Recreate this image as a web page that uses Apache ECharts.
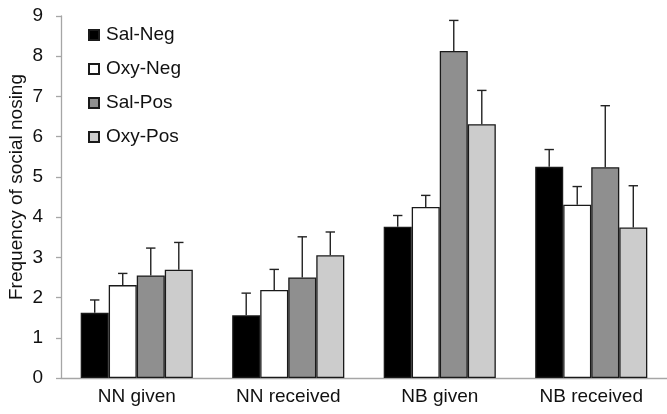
<!DOCTYPE html>
<html>
<head>
<meta charset="utf-8">
<script src="https://cdn.jsdelivr.net/npm/echarts@6/dist/echarts.min.js"></script>
<style>
html,body{margin:0;padding:0;background:#fff;}
#chart{width:667px;height:414px;}
</style>
</head>
<body>
<div id="chart"></div>
<script>
var categories = ['NN given', 'NN received', 'NB given', 'NB received'];
var seriesNames = ['Sal-Neg', 'Oxy-Neg', 'Sal-Pos', 'Oxy-Pos'];
var salNeg = [1.62, 1.56, 3.76, 5.25];
var oxyNeg = [2.31, 2.19, 4.25, 4.31];
var salPos = [2.55, 2.50, 8.13, 5.24];
var oxyPos = [2.69, 3.05, 6.31, 3.74];
var salNegErr = [0.32, 0.55, 0.28, 0.43];
var oxyNegErr = [0.29, 0.51, 0.29, 0.45];
var salPosErr = [0.68, 1.01, 0.76, 1.53];
var oxyPosErr = [0.68, 0.58, 0.84, 1.04];
var yTicks = [0, 1, 2, 3, 4, 5, 6, 7, 8, 9];

var values = [salNeg, oxyNeg, salPos, oxyPos];
var errors = [salNegErr, oxyNegErr, salPosErr, oxyPosErr];
var colors = ['#000000', '#ffffff', '#8f8f8f', '#cccccc'];
var barFrac = 0.185;
var font = '"Liberation Sans", Arial, sans-serif';

var chart = echarts.init(document.getElementById('chart'));
var series = [];
seriesNames.forEach(function (name, i) {
  series.push({
    name: name,
    type: 'bar',
    data: values[i],
    barWidth: (barFrac * 100) + '%',
    barGap: '0%',
    itemStyle: { color: colors[i], borderColor: '#1a1a1a', borderWidth: 1.3 },
    emphasis: { disabled: true },
    animation: false,
    z: 2
  });
});
seriesNames.forEach(function (name, i) {
  series.push({
    type: 'custom',
    name: name + '-err',
    data: values[i].map(function (v, j) { return [j, v, v + errors[i][j]]; }),
    encode: { x: 0, y: [1, 2] },
    animation: false,
    z: 3,
    renderItem: function (params, api) {
      var cat = api.value(0);
      var lo = api.coord([cat, api.value(1)]);
      var hi = api.coord([cat, api.value(2)]);
      var bandW = api.size([1, 0])[0];
      var bw = bandW * barFrac;
      var x = lo[0] + (i - 1.5) * bw;
      var cap = 4.7;
      var st = { stroke: '#222', lineWidth: 1.4 };
      return {
        type: 'group',
        children: [
          { type: 'line', shape: { x1: x, y1: lo[1], x2: x, y2: hi[1] }, style: st },
          { type: 'line', shape: { x1: x - cap, y1: hi[1], x2: x + cap, y2: hi[1] }, style: st }
        ]
      };
    }
  });
});

chart.setOption({
  animation: false,
  grid: { left: 61, right: 0, top: 16, bottom: 36, containLabel: false },
  legend: {
    data: seriesNames,
    orient: 'vertical',
    left: 83,
    top: 20,
    itemWidth: 10,
    itemHeight: 10,
    itemGap: 14,
    icon: 'rect',
    textStyle: { fontFamily: font, fontSize: 19, color: '#111', lineHeight: 20, padding: [0, 0, 0, 2] },
    selectedMode: false
  },
  xAxis: {
    type: 'category',
    data: categories,
    axisLine: { lineStyle: { color: '#a6a6a6', width: 1.3 } },
    axisTick: { show: false },
    axisLabel: { fontFamily: font, fontSize: 19, color: '#111', margin: 9 },
    splitLine: { show: false }
  },
  yAxis: {
    type: 'value',
    min: 0,
    max: 9,
    interval: 1,
    axisLine: { show: true, lineStyle: { color: '#a6a6a6', width: 1.3 } },
    axisTick: { show: true, length: 5, lineStyle: { color: '#a6a6a6', width: 1.3 } },
    axisLabel: { fontFamily: font, fontSize: 19, color: '#111', margin: 18,
      formatter: function (v) { return yTicks.indexOf(v) >= 0 ? String(v) : ''; } },
    splitLine: { show: false }
  },
  graphic: [{
    type: 'text',
    x: 17,
    y: 187,
    rotation: Math.PI / 2,
    style: {
      text: 'Frequency of social nosing',
      font: '19px ' + font,
      fill: '#111',
      textAlign: 'center',
      textVerticalAlign: 'middle'
    }
  }],
  series: series
});
</script>
</body>
</html>
